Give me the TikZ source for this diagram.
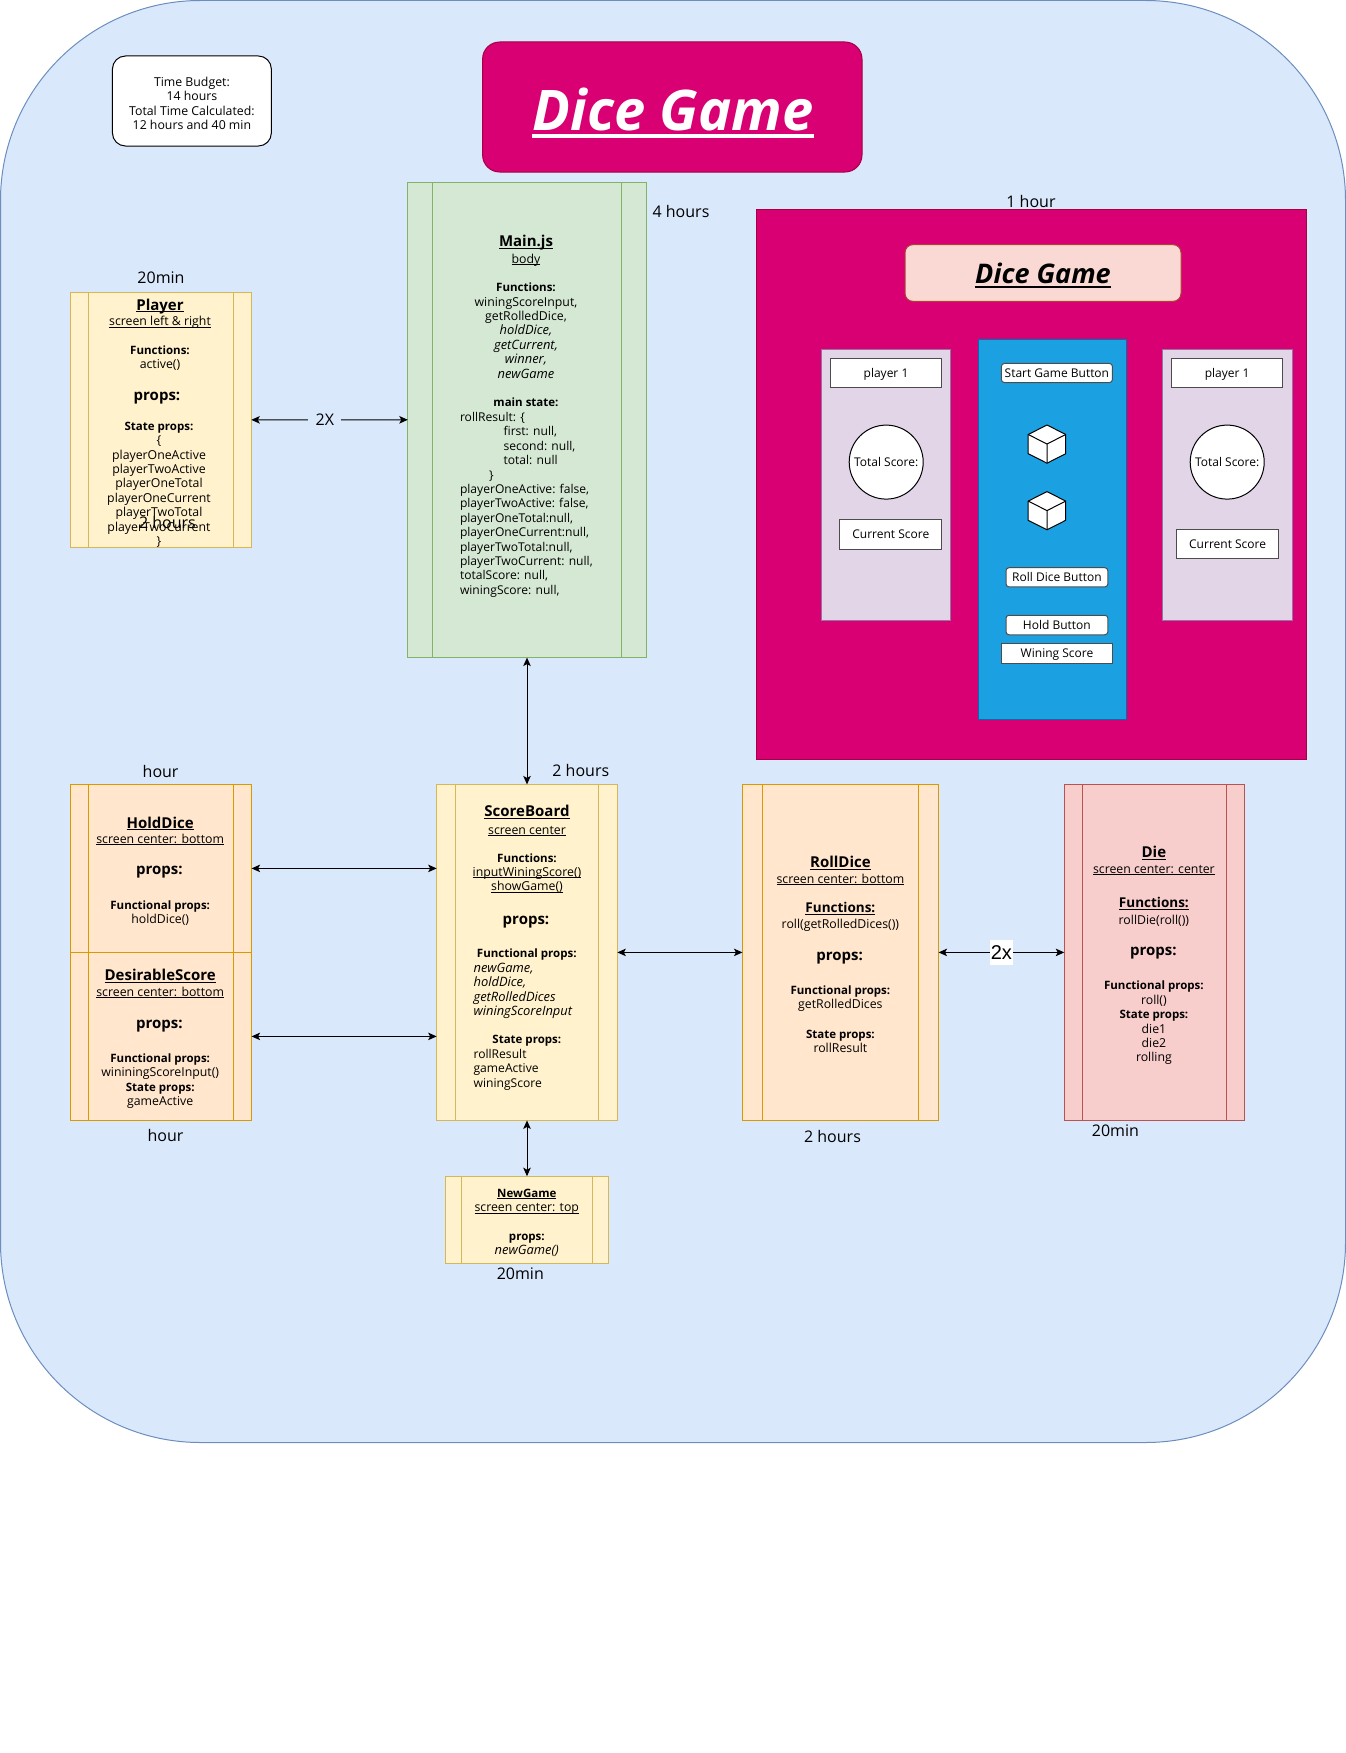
\documentclass[tikz,border=0pt]{standalone}
\usepackage{fontspec}
\setmainfont{Open Sans}
\newfontfamily\arialfont{Liberation Sans}
\usetikzlibrary{arrows.meta}
\newcommand{\uline}[1]{\leavevmode\setbox0\hbox{#1}\rlap{\rule[-0.14em]{\wd0}{0.07em}}\box0}
\newcommand{\bft}[1]{{\bfseries\fontsize{11.5}{14.4}\selectfont #1}}
\newcommand{\itt}[1]{{\itshape\fontsize{12.9}{14.4}\selectfont #1}}
\definecolor{skyfill}{HTML}{DAE8FC}
\definecolor{skyline}{HTML}{6C8EBF}
\definecolor{pinkfill}{HTML}{D80073}
\definecolor{pinkline}{HTML}{A50040}
\definecolor{leaffill}{HTML}{D5E8D4}
\definecolor{leafline}{HTML}{82B366}
\definecolor{sandfill}{HTML}{FFF2CC}
\definecolor{sandline}{HTML}{D6B656}
\definecolor{peelfill}{HTML}{FFE6CC}
\definecolor{peelline}{HTML}{D79B00}
\definecolor{rosefill}{HTML}{F8CECC}
\definecolor{roseline}{HTML}{B85450}
\definecolor{lilacfill}{HTML}{E1D5E7}
\definecolor{lilacline}{HTML}{9673A6}
\definecolor{oceanfill}{HTML}{1BA1E2}
\definecolor{oceanline}{HTML}{006EAF}
\definecolor{blushfill}{HTML}{FAD9D5}
\definecolor{blushline}{HTML}{AE4132}
\begin{document}
\begin{tikzpicture}[x=1pt,y=-1pt,line width=1pt]
\tikzstyle{every node}+=[inner sep=0pt,outer sep=0pt]
\tikzstyle{txt}=[font=\fontsize{12.3}{14.4}\selectfont,align=center,yshift=-1.5]
\tikzstyle{txtl}=[font=\fontsize{12.1}{14.4}\selectfont,align=left,anchor=west,yshift=-1.5]
\tikzstyle{head}=[font=\bfseries\fontsize{15}{18}\selectfont,yshift=-1.5]
\tikzstyle{prop}=[font=\bfseries\fontsize{15}{18}\selectfont,yshift=-3.3]
\tikzstyle{time}=[font=\fontsize{16}{19}\selectfont]
\tikzstyle{sand}=[draw=sandline,fill=sandfill]
\tikzstyle{peel}=[draw=peelline,fill=peelfill]
\tikzstyle{leaf}=[draw=leafline,fill=leaffill]
\tikzstyle{rose}=[draw=roseline,fill=rosefill]
\tikzstyle{plain}=[draw=black!70,fill=white,font=\fontsize{12}{14.4}\selectfont,text height=9.5pt,text depth=1.5pt]
\tikzstyle{btn}=[plain,rounded corners=3pt]
\tikzstyle{side}=[draw=lilacline,fill=lilacfill,minimum width=129.4,minimum height=271]
\tikzstyle{link}=[{Stealth[length=8.5pt,width=7.5pt,inset=2pt]}-{Stealth[length=8.5pt,width=7.5pt,inset=2pt]},black]
\useasboundingbox (0,0) rectangle (1346,1753);
\node [draw=skyline,fill=skyfill,rounded corners=200pt,minimum width=1345,minimum height=1442] (frame) at (673,721.5) {};
\node [draw=black,fill=white,rounded corners=13pt,minimum width=158.9,minimum height=90] (budget) at (191.9,101) {};
\node [txt] (budgettext) at (191.9,102) {Time Budget:\\14 hours\\Total Time Calculated:\\12 hours and 40 min};
\node [draw=pinkline,fill=pinkfill,rounded corners=17pt,minimum width=379.4,minimum height=130] (banner) at (672.3,107) {};
\node [text=white,font=\bfseries\itshape\fontsize{56}{60}\selectfont] (bannertext) at (673,113) {\uline{Dice Game}};
% main
\node [leaf,minimum width=238.4,minimum height=475.6] (main) at (527,419.8) {};
\draw [leafline] ([xshift=24.4]main.north west) -- ([xshift=24.4]main.south west);
\draw [leafline] ([xshift=-24.4]main.north east) -- ([xshift=-24.4]main.south east);
\node [head] (maintitle) at (526,241.5) {\uline{Main.js}};
\node [txt] (mainbody) at (526,258.5) {\uline{body}};
\node [txt] (mainfuncs) at (526,329) {\bft{Functions:}\\winingScoreInput,\\getRolledDice,\\\itt{holdDice,}\\\itt{getCurrent,}\\\itt{winner,}\\\itt{newGame}};
\node [txt] (mainstate) at (526,401) {\bft{main state:}};
\node [txtl] (mainvalues) at (460,503.2) {rollResult: \{\\\hspace*{43.6pt}first: null,\\\hspace*{43.6pt}second: null,\\\hspace*{43.6pt}total: null\\\hspace*{29pt}\}\\playerOneActive: false,\\playerTwoActive: false,\\playerOneTotal:null,\\playerOneCurrent:null,\\playerTwoTotal:null,\\playerTwoCurrent: null,\\totalScore: null,\\winingScore: null,};
\node [time] (mainhours) at (681,211) {4 hours};
% player
\node [sand,minimum width=180.8,minimum height=254.9] (player) at (160.9,419.85) {};
\draw [sandline] ([xshift=18]player.north west) -- ([xshift=18]player.south west);
\draw [sandline] ([xshift=-18]player.north east) -- ([xshift=-18]player.south east);
\node [head] (playertitle) at (160,305) {\uline{Player}};
\node [txt] (playerspot) at (160,321) {\uline{screen left \& right}};
\node [txt] (playerfuncs) at (160,356.8) {\bft{Functions:}\\active()};
\node [prop] (playerprops) at (157,395) {props:};
\node [txt] (playerstate) at (159,483.2) {\bft{State props:}\\\{\\playerOneActive\\playerTwoActive\\playerOneTotal\\playerOneCurrent\\playerTwoTotal\\playerTwoCurrent\\\}};
\node [time] (playertime) at (161,277.7) {20min};
\node [time] (playerhours) at (167.4,522.3) {2 hours};
% board
\node [fill=pinkfill,draw=pinkline,minimum width=550,minimum height=550] (screen) at (1031,484) {};
\node [time] (screenhours) at (1031,201.5) {1 hour};
\node [draw=blushline,fill=blushfill,rounded corners=8pt,minimum width=276,minimum height=56.7] (logo) at (1043,273) {};
\node [font=\bfseries\itshape\fontsize{27}{30}\selectfont] (logotext) at (1043,275.5) {\uline{Dice Game}};
\node [side] (leftside) at (886.2,484.7) {};
\node [side] (rightside) at (1227.3,484.7) {};
\node [draw=oceanline,fill=oceanfill,minimum width=147.6,minimum height=379.4] (center) at (1052.2,529.3) {};
\node [plain,minimum width=111.4,minimum height=29.1] (leftname) at (886,373) {player 1};
\node [plain,minimum width=111.4,minimum height=29.1] (rightname) at (1227.2,373) {player 1};
\node [plain,circle,draw=black,minimum size=74] (lefttotal) at (886.2,462.1) {Total Score:};
\node [plain,circle,draw=black,minimum size=74] (righttotal) at (1227.2,462.1) {Total Score:};
\node [plain,minimum width=101.8,minimum height=29.5] (leftcurrent) at (890.8,534.7) {Current Score};
\node [plain,minimum width=102.5,minimum height=29] (rightcurrent) at (1227.6,544) {Current Score};
\node [btn,minimum width=111,minimum height=19.1] (startbtn) at (1056.9,373) {Start Game Button};
\node [btn,minimum width=101.8,minimum height=19.2] (rollbtn) at (1056.9,577.3) {Roll Dice Button};
\node [btn,minimum width=101.8,minimum height=19.5] (holdbtn) at (1056.9,625) {Hold Button};
\node [plain,minimum width=111.3,minimum height=19.9] (scorebtn) at (1057,653.5) {Wining Score};
\draw [black,fill=white,line join=round] (1047,425) -- (1065.7,434.5) -- (1065.7,453.7) -- (1047,463.2) -- (1028.2,453.7) -- (1028.2,434.5) -- cycle;
\draw [black,line join=round] (1028.2,434.5) -- (1047,444) -- (1065.7,434.5) (1047,444) -- (1047,463.2);
\draw [black,fill=white,line join=round] (1047,491.6) -- (1065.7,501.1) -- (1065.7,520.3) -- (1047,529.8) -- (1028.2,520.3) -- (1028.2,501.1) -- cycle;
\draw [black,line join=round] (1028.2,501.1) -- (1047,510.6) -- (1065.7,501.1) (1047,510.6) -- (1047,529.8);
% hold dice
\node [peel,minimum width=181.4,minimum height=168] (hold) at (160.9,868.4) {};
\draw [peelline] ([xshift=18.4]hold.north west) -- ([xshift=18.4]hold.south west);
\draw [peelline] ([xshift=-18.4]hold.north east) -- ([xshift=-18.4]hold.south east);
\node [head] (holdtitle) at (160.2,821.9) {\uline{HoldDice}};
\node [txt] (holdspot) at (160.2,838) {\uline{screen center: bottom}};
\node [prop] (holdprops) at (159.4,869.3) {props:};
\node [txt] (holdfuncs) at (160.2,911.7) {\bft{Functional props:}\\holdDice()};
\node [time] (holdtime) at (160.6,771.7) {hour};
% desirable score
\node [peel,minimum width=181.4,minimum height=168] (desirable) at (160.9,1036.4) {};
\draw [peelline] ([xshift=18.4]desirable.north west) -- ([xshift=18.4]desirable.south west);
\draw [peelline] ([xshift=-18.4]desirable.north east) -- ([xshift=-18.4]desirable.south east);
\node [head] (desirabletitle) at (160.2,974.8) {\uline{DesirableScore}};
\node [txt] (desirablespot) at (160.2,991) {\uline{screen center: bottom}};
\node [prop] (desirableprops) at (159.4,1023.2) {props:};
\node [txt] (desirablefuncs) at (160.2,1079.5) {\bft{Functional props:}\\wininingScoreInput()\\\bft{State props:}\\gameActive};
\node [time] (desirabletime) at (165.5,1135.8) {hour};
% score board
\node [sand,minimum width=180.7,minimum height=336] (score) at (527,952.4) {};
\draw [sandline] ([xshift=18.4]score.north west) -- ([xshift=18.4]score.south west);
\draw [sandline] ([xshift=-18.4]score.north east) -- ([xshift=-18.4]score.south east);
\node [head] (scoretitle) at (527,810.4) {\uline{ScoreBoard}};
\node [txt] (scorespot) at (527,829.3) {\uline{screen center}};
\node [txt] (scorefuncs) at (527,871.5) {\bft{Functions:}\\\uline{inputWiningScore()}\\\uline{showGame()}};
\node [prop] (scoreprops) at (526,918.4) {props:};
\node [txt] (scorefunctional) at (526.8,952.7) {\bft{Functional props:}};
\node [txtl] (scorefnames) at (473.6,989.5) {\itt{newGame,}\\\itt{holdDice,}\\\itt{getRolledDices}\\\itt{winingScoreInput}};
\node [txt] (scorestate) at (526.8,1039.7) {\bft{State props:}};
\node [txtl] (scoresnames) at (473.6,1068.3) {rollResult\\gameActive\\winingScore};
\node [time] (scorehours) at (580.8,770) {2 hours};
% new game
\node [sand,minimum width=163.4,minimum height=87.3] (newgame) at (527,1219.85) {};
\draw [sandline] ([xshift=16]newgame.north west) -- ([xshift=16]newgame.south west);
\draw [sandline] ([xshift=-16]newgame.north east) -- ([xshift=-16]newgame.south east);
\node [txt] (newgametext) at (526.8,1221.4) {\bft{\uline{NewGame}}\\\uline{screen center: top}\\[14.4pt]\bft{props:}\\\itt{newGame()}};
\node [time] (newgametime) at (520.3,1274) {20min};
% roll dice
\node [peel,minimum width=196.1,minimum height=336.4] (roll) at (840.5,952.4) {};
\draw [peelline] ([xshift=20]roll.north west) -- ([xshift=20]roll.south west);
\draw [peelline] ([xshift=-20]roll.north east) -- ([xshift=-20]roll.south east);
\node [head] (rolltitle) at (840.4,861.7) {\uline{RollDice}};
\node [txt] (rollspot) at (840.4,878) {\uline{screen center: bottom}};
\node [font=\bfseries\fontsize{13.5}{16}\selectfont,yshift=-1.5] (rollfuncs) at (840.4,907) {\uline{Functions:}};
\node [txt] (rollcall) at (840.4,923.5) {roll(getRolledDices())};
\node [prop] (rollprops) at (839.6,955) {props:};
\node [txt] (rollfunctional) at (840.4,997) {\bft{Functional props:}\\getRolledDices};
\node [txt] (rollstate) at (840.4,1040) {\bft{State props:}\\rollResult};
\node [time] (rollhours) at (832.5,1136) {2 hours};
% die
\node [rose,minimum width=180.3,minimum height=336.4] (die) at (1154.4,952.4) {};
\draw [roseline] ([xshift=18.2]die.north west) -- ([xshift=18.2]die.south west);
\draw [roseline] ([xshift=-18.2]die.north east) -- ([xshift=-18.2]die.south east);
\node [head] (dietitle) at (1153.9,851.7) {\uline{Die}};
\node [txt] (diespot) at (1153.9,868.3) {\uline{screen center: center}};
\node [font=\bfseries\fontsize{13.5}{16}\selectfont,yshift=-1.5] (diefuncs) at (1153.9,902.3) {\uline{Functions:}};
\node [txt] (diecall) at (1153.9,919) {rollDie(roll())};
\node [prop] (dieprops) at (1153.4,950.3) {props:};
\node [txt] (diestate) at (1153.9,1021.5) {\bft{Functional props:}\\roll()\\\bft{State props:}\\die1\\die2\\rolling};
\node [time] (dietime) at (1115.4,1131) {20min};
% links
\draw [link] (player.east) -- node [pos=0.47,fill=skyfill,time,minimum width=33,minimum height=20] (twice) {2X} (main.west);
\draw [link] (main.south) -- (score.north);
\draw [link] (hold.east) -- (score.west |- hold.east);
\draw [link] (desirable.east) -- (score.west |- desirable.east);
\draw [link] (score.east) -- (roll.west);
\draw [link] (score.south) -- (newgame.north);
\draw [link] (roll.east) -- node [fill=white,font=\arialfont\fontsize{20}{24}\selectfont,minimum width=23,minimum height=25] (twodice) {2x} (die.west);
\end{tikzpicture}
\end{document}
